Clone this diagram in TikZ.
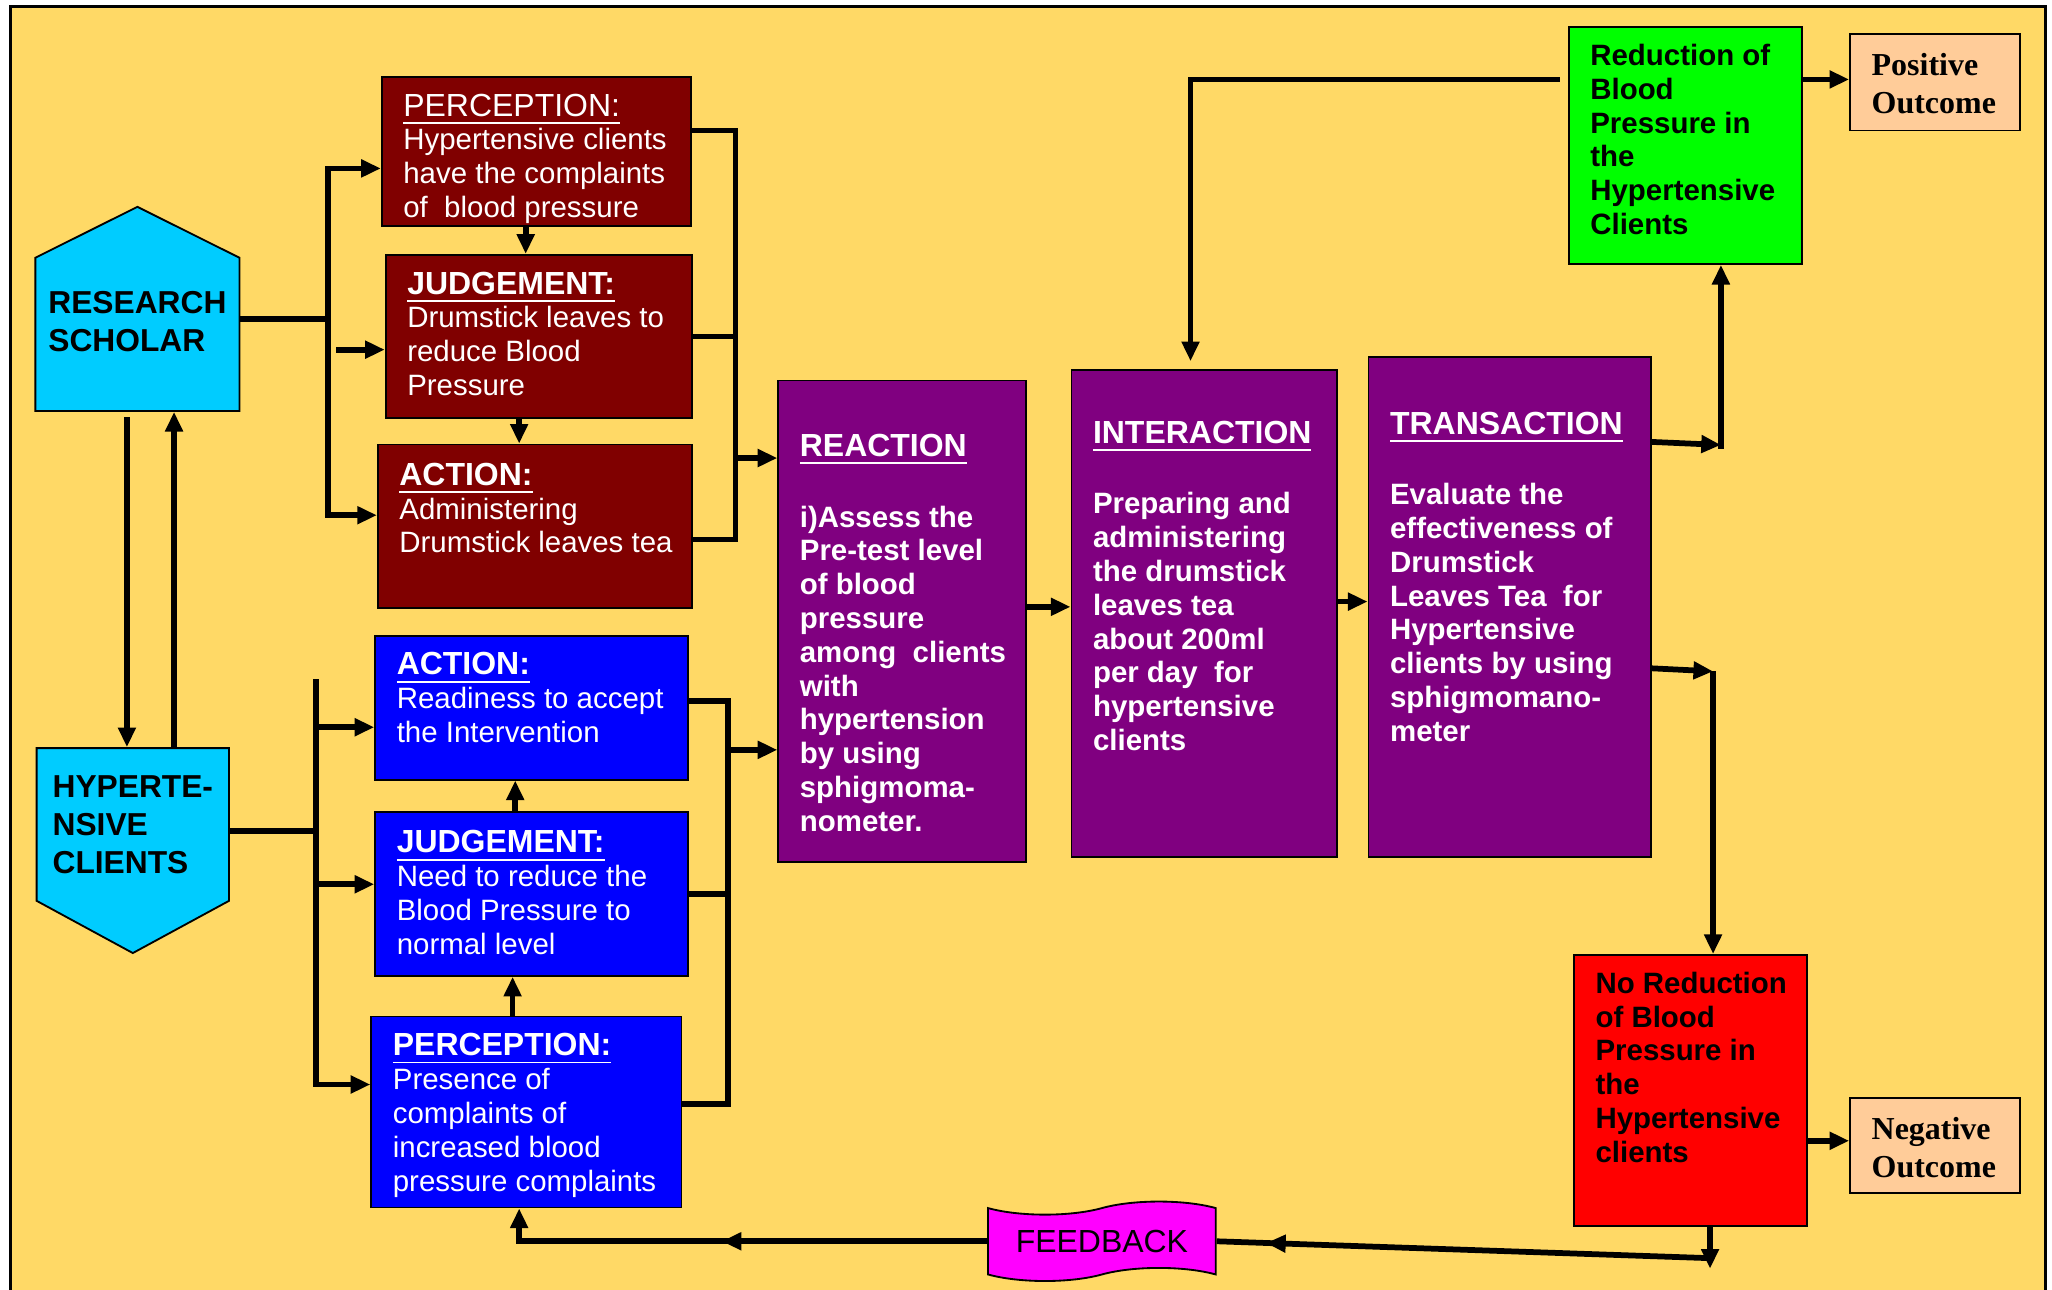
\documentclass[tikz,border=0pt]{standalone}
\usepackage{fontspec}
\setmainfont{Liberation Sans}
\newfontfamily\outfont{Liberation Serif}
\usetikzlibrary{arrows.meta,shapes.symbols,decorations.markings}
\definecolor{bgyellow}{HTML}{FFD966}
\definecolor{maroonbox}{HTML}{800000}
\definecolor{bluebox}{HTML}{0000FF}
\definecolor{purplebox}{HTML}{800080}
\definecolor{cyanbox}{HTML}{00CCFF}
\definecolor{greenbox}{HTML}{00FF00}
\definecolor{redbox}{HTML}{FF0000}
\definecolor{peachbox}{HTML}{FFCC99}
\definecolor{magentabox}{HTML}{FF00FF}
\newcommand\bodyfont{\fontsize{6.4pt}{7.35pt}\selectfont}
\newcommand\headfont{\fontsize{6.95pt}{7.7pt}\selectfont}

\begin{document}
\begin{tikzpicture}[
  line/.style={line width=1.25pt},
  arr/.style={line width=1.25pt,-{Triangle[length=0.15cm,width=0.13cm]}},
  midarrow/.style={postaction={decorate,decoration={markings,
    mark=at position #1 with {\arrow{Triangle[length=0.15cm,width=0.13cm]}}}}},
  card/.style n args={3}{draw,line width=0.4pt,anchor=north west,inner sep=0pt,font=\bodyfont,
    execute at begin node={\begin{minipage}[t][#2][t]{#1}\vspace*{#3}\raggedright\leftskip=0.165cm},
    execute at end node={\end{minipage}}},
  house/.style={shape=signal,draw,line width=0.4pt,fill=cyanbox,align=left,inner sep=0pt,
    font=\fontsize{6.9pt}{8.25pt}\selectfont\bfseries},
  outcome/.style={card={1.30cm}{#1}{0.15cm},fill=peachbox,
    font=\outfont\fontsize{6.95pt}{8.25pt}\selectfont\bfseries}
]
\useasboundingbox (0,0) rectangle (15.68,-9.85);
\fill[white] (0,0) rectangle (15.68,-9.85);
\draw[fill=bgyellow,line width=0.5pt] (0.08,-0.05) rectangle (15.63,-10.0);

\node[house,signal to=north,signal pointer angle=127,minimum width=1.56cm,minimum height=1.51cm] (rs) at (1.05,-2.555) {RESEARCH\\SCHOLAR\rule[-0.2cm]{0pt}{0.2cm}};
\node[house,signal to=south,signal pointer angle=123,minimum width=1.47cm,minimum height=1.50cm] (hc) at (1.015,-6.30) {HYPERTE-\\NSIVE\\CLIENTS};

\node[card={2.36cm}{1.14cm}{0.13cm},fill=maroonbox,text=white] (mp) at (2.91,-0.58)
  {{\headfont\underline{PERCEPTION:}}\\Hypertensive clients\\have the complaints\\of\ \ blood pressure};
\node[card={2.34cm}{1.25cm}{0.13cm},fill=maroonbox,text=white] (mj) at (2.94,-1.94)
  {{\headfont\underline{\textbf{JUDGEMENT:}}}\\Drumstick leaves to\\reduce Blood\\Pressure};
\node[card={2.40cm}{1.25cm}{0.14cm},fill=maroonbox,text=white] (ma) at (2.88,-3.39)
  {{\headfont\underline{\textbf{ACTION:}}}\\Administering\\Drumstick leaves tea};

\node[card={2.39cm}{1.10cm}{0.13cm},fill=bluebox,text=white] (ba) at (2.86,-4.85)
  {{\headfont\underline{\textbf{ACTION:}}}\\Readiness to accept\\the Intervention};
\node[card={2.39cm}{1.25cm}{0.14cm},fill=bluebox,text=white] (bj) at (2.86,-6.20)
  {{\headfont\underline{\textbf{JUDGEMENT:}}}\\Need to reduce the\\Blood Pressure to\\normal level};
\node[card={2.37cm}{1.46cm}{0.13cm},fill=bluebox,text=white] (bp) at (2.83,-7.76)
  {{\headfont\underline{\textbf{PERCEPTION:}}}\\Presence of\\complaints of\\increased blood\\pressure complaints};

\node[card={1.89cm}{3.68cm}{0.41cm},fill=purplebox,text=white,font=\bodyfont\bfseries] (reac) at (5.94,-2.90)
  {{\headfont\underline{REACTION}}\\[8pt]i)Assess the\\Pre-test level\\of blood\\pressure\\among\ \ clients\\with\\hypertension\\by using\\sphigmoma-\\nometer.};
\node[card={2.03cm}{3.72cm}{0.39cm},fill=purplebox,text=white,font=\bodyfont\bfseries] (inter) at (8.18,-2.82)
  {{\headfont\underline{INTERACTION}}\\[8pt]Preparing and\\administering\\the drumstick\\leaves tea\\about 200ml\\per day\ \ for\\hypertensive\\clients};
\node[card={2.16cm}{3.82cm}{0.42cm},fill=purplebox,text=white,font=\bodyfont\bfseries] (trans) at (10.45,-2.72)
  {{\headfont\underline{TRANSACTION}}\\[8pt]Evaluate the\\effectiveness of\\Drumstick\\Leaves Tea\ \ for\\Hypertensive\\clients by using\\sphigmomano-\\meter};

\node[card={1.78cm}{1.81cm}{0.13cm},fill=greenbox,font=\bodyfont\bfseries] (green) at (11.98,-0.20)
  {Reduction of\\Blood\\Pressure in\\the\\Hypertensive\\Clients};
\node[card={1.78cm}{2.07cm}{0.13cm},fill=redbox,font=\bodyfont\bfseries] (red) at (12.02,-7.29)
  {No Reduction\\of Blood\\Pressure in\\the\\Hypertensive\\clients};
\node[outcome={0.74cm}] (pos) at (14.13,-0.25) {Positive\\Outcome};
\node[outcome={0.73cm}] (neg) at (14.13,-8.38) {Negative\\Outcome};

\node[tape,draw,line width=0.4pt,fill=magentabox,minimum width=1.74cm,minimum height=0.53cm,
  tape bend height=0.1cm,font=\fontsize{6.95pt}{8pt}\selectfont] (fb) at (8.42,-9.485) {FEEDBACK};

\draw[line] ([yshift=0.115cm]rs.east) -- ++(0.67,0) coordinate (lj);
\draw[arr] (lj) |- ([yshift=-0.13cm]mp.west);
\draw[arr] (lj) |- ([yshift=0.085cm]ma.west);
\draw[arr] ([xshift=-0.37cm,yshift=-0.10cm]mj.west) -- ([yshift=-0.10cm]mj.west);
\draw[arr] ([xshift=-0.08cm]mp.south) -- ([xshift=-0.08cm]mp.south |- mj.north);
\draw[arr] ([xshift=-0.15cm]mj.south) -- ([xshift=-0.15cm]mj.south |- ma.north);

\coordinate (rj) at (5.62,-3.50);
\draw[line] ([yshift=0.16cm]mp.east) -| (rj);
\draw[line] (mj.east) -- (mj.east -| rj);
\draw[line] ([yshift=-0.10cm]ma.east) -| (rj);
\draw[arr] (rj) -- (rj -| reac.west);

\draw[line] ([yshift=-0.05cm]hc.east) -- ++(0.66,0) coordinate (hj);
\draw[line] (hj) -- ++(0,1.16);
\draw[arr] (hj) |- ([yshift=-0.15cm]ba.west);
\draw[arr] (hj) |- ([yshift=0.075cm]bj.west);
\draw[arr] (hj) |- ([yshift=0.21cm]bp.west);
\draw[arr] ([xshift=-0.105cm]bp.north) -- ([xshift=-0.105cm]bp.north |- bj.south);
\draw[arr] ([xshift=-0.125cm]bj.north) -- ([xshift=-0.125cm]bj.north |- ba.south);

\coordinate (bjn) at (5.56,-5.73);
\draw[line] ([yshift=0.05cm]ba.east) -| (bjn);
\draw[line] (bj.east) -- (bj.east -| bjn);
\draw[line] ([yshift=0.06cm]bp.east) -| (bjn);
\draw[arr] (bjn) -- (bjn -| reac.west);

\draw[arr] ([xshift=-0.08cm,yshift=-0.04cm]rs.south) -- ([xshift=-0.08cm]rs.south |- hc.north);
\draw[arr] ([xshift=0.28cm]rs.south |- hc.north) -- ([xshift=0.28cm]rs.south);

\draw[arr] ([yshift=0.11cm]reac.east) -- ([yshift=0.11cm]reac.east -| inter.west);
\draw[arr] ([yshift=0.09cm]inter.east) -- ([yshift=0.09cm]inter.east -| trans.west);

\coordinate (gj) at (13.15,-3.40);
\draw[arr] ([yshift=1.26cm]trans.east) -- (gj);
\draw[arr] ([yshift=-0.03cm]gj) -- (gj |- green.south);
\coordinate (rdj) at (13.09,-5.13);
\draw[arr] ([yshift=-0.47cm]trans.east) -- (rdj);
\draw[arr] (rdj) -- (rdj |- red.north);

\draw[arr] ([xshift=-0.06cm,yshift=0.505cm]green.west) -| ([xshift=-0.105cm,yshift=0.06cm]inter.north);
\draw[arr] ([yshift=0.505cm]green.east) -- ([yshift=0.505cm]green.east -| pos.west);
\draw[arr] ([yshift=-0.385cm]red.east) -- ([yshift=-0.385cm]red.east -| neg.west);

\draw[arr] ([xshift=0.15cm]red.south) -- ++(0,-0.32);
\draw[line,midarrow=0.9] ([xshift=0.15cm,yshift=-0.24cm]red.south) -- (fb.east);
\draw[arr,midarrow=0.53] (fb.west) -| ([xshift=-0.055cm]bp.south);

\end{tikzpicture}
\end{document}
